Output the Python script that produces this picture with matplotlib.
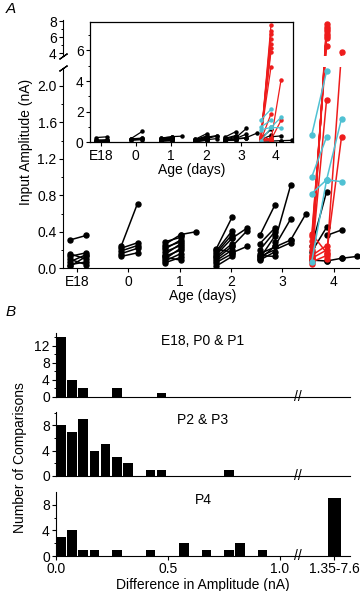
import matplotlib
matplotlib.use("Agg")
import matplotlib.pyplot as plt
import numpy as np
from matplotlib.ticker import FixedLocator, FixedFormatter

plt.rcParams['font.family'] = ['Liberation Sans', 'DejaVu Sans']
plt.rcParams['font.size'] = 9.5

# ─────────────────────────────────────────────────────────────────────────────
# Panel A data: paired inputs (age in days, amplitude in nA) -> (x0, y0, x1, y1)
age_ticks = [-1, 0, 1, 2, 3, 4]
age_labels = ["E18", "0", "1", "2", "3", "4"]

black_pairs = [
    # E18
    (-1.14, 0.31, -0.82, 0.36), (-1.14, 0.16, -0.82, 0.10), (-1.14, 0.13, -0.82, 0.17),
    (-1.14, 0.10, -0.82, 0.04), (-1.14, 0.07, -0.82, 0.15), (-1.14, 0.04, -0.82, 0.07),
    (-1.14, 0.02, -0.82, 0.13),
    # P0
    (-0.14, 0.24, 0.18, 0.71), (-0.14, 0.22, 0.18, 0.28), (-0.14, 0.19, 0.18, 0.25),
    (-0.14, 0.16, 0.18, 0.22), (-0.14, 0.13, 0.18, 0.17),
    # P1
    (1.02, 0.37, 1.31, 0.40), (0.71, 0.29, 1.02, 0.34), (0.71, 0.26, 1.02, 0.37),
    (0.71, 0.23, 1.02, 0.29), (0.71, 0.21, 1.02, 0.31), (0.71, 0.18, 1.02, 0.25),
    (0.71, 0.15, 1.02, 0.27), (0.71, 0.13, 1.02, 0.20), (0.71, 0.10, 1.02, 0.22),
    (0.71, 0.08, 1.02, 0.16), (0.71, 0.06, 1.02, 0.12), (0.71, 0.12, 1.02, 0.09),
    # P2
    (1.70, 0.20, 2.02, 0.56), (1.70, 0.18, 2.02, 0.41), (1.70, 0.16, 2.02, 0.37),
    (1.70, 0.14, 2.02, 0.33), (1.70, 0.12, 2.02, 0.27), (1.70, 0.10, 2.02, 0.24),
    (1.70, 0.08, 2.02, 0.20), (1.70, 0.06, 2.02, 0.16), (1.70, 0.02, 2.02, 0.13),
    (1.70, 0.21, 2.02, 0.18), (2.02, 0.33, 2.31, 0.44), (2.02, 0.24, 2.31, 0.41),
    (2.02, 0.17, 2.31, 0.24),
    # P3
    (2.56, 0.36, 2.85, 0.69), (2.56, 0.27, 2.85, 0.44), (2.85, 0.29, 3.16, 0.91),
    (2.85, 0.24, 3.16, 0.54), (3.16, 0.31, 3.46, 0.60), (2.56, 0.20, 2.85, 0.40),
    (2.56, 0.16, 3.16, 0.31), (2.56, 0.13, 3.16, 0.28), (2.56, 0.11, 2.85, 0.35),
    (2.56, 0.09, 2.85, 0.18), (2.56, 0.14, 2.85, 0.13), (2.56, 0.10, 2.85, 0.24),
    # P4
    (3.57, 0.09, 3.86, 0.08), (3.86, 0.08, 4.15, 0.11), (4.15, 0.11, 4.45, 0.13),
    (3.57, 0.24, 3.86, 0.84), (3.57, 0.18, 3.86, 0.45), (3.86, 0.36, 4.15, 0.42),
]

red_pairs = [
    (3.57, 0.05, 3.86, 7.65), (3.57, 0.08, 3.86, 7.30), (3.57, 0.12, 3.86, 7.05),
    (3.57, 0.15, 3.86, 6.75), (3.57, 0.20, 3.86, 6.45), (3.57, 0.25, 3.86, 6.15),
    (3.57, 0.30, 3.86, 5.90), (3.57, 0.35, 3.86, 4.90), (3.57, 0.10, 3.86, 1.85),
    (3.86, 0.10, 4.15, 4.10), (3.86, 0.16, 4.15, 1.44), (3.57, 0.38, 3.86, 0.17),
    (3.57, 0.14, 3.86, 0.25), (3.57, 0.11, 3.86, 0.20), (3.57, 0.07, 3.86, 0.14),
]

cyan_pairs = [
    (3.57, 1.46, 3.86, 2.16), (3.57, 1.00, 3.86, 1.44), (3.57, 0.82, 3.86, 0.97),
    (3.57, 0.07, 3.86, 0.97), (3.86, 0.97, 4.15, 0.95), (3.86, 0.97, 4.15, 1.64),
]

# Panel B data: histogram of amplitude differences (bins of 0.05 nA)
bin_left = [0.00, 0.05, 0.10, 0.15, 0.20, 0.25, 0.30, 0.35, 0.40, 0.45,
            0.50, 0.55, 0.60, 0.65, 0.70, 0.75, 0.80, 0.85, 0.90, 0.95]
counts_e18_p1 = [14, 4, 2, 0, 0, 2, 0, 0, 0, 1, 0, 0, 0, 0, 0, 0, 0, 0, 0, 0]
counts_p2_p3 = [8, 7, 9, 4, 5, 3, 2, 0, 1, 1, 0, 0, 0, 0, 0, 1, 0, 0, 0, 0]
counts_p4 = [3, 4, 1, 1, 0, 1, 0, 0, 1, 0, 0, 2, 0, 1, 0, 1, 2, 0, 1, 0]
big_label = "1.35-7.6"
big_counts = [0, 0, 9]   # E18-P1, P2-P3, P4
hist_titles = ["E18, P0 & P1", "P2 & P3", "P4"]

RED = '#EE1C1C'
CYAN = '#4FC1D3'

fig = plt.figure(figsize=(3.6, 5.91), dpi=100)

# ─────────────────────────────────────────────────────────────────────────────
# Panel A main (broken y axis via piecewise-linear scale)
BRK, TOP_START, K = 2.2, 3.6, 8 / 91.5


def fwd(y):
    y = np.asarray(y, float)
    return np.where(y <= BRK, y, BRK + (y - BRK) * K)


def inv(y):
    y = np.asarray(y, float)
    return np.where(y <= BRK, y, BRK + (y - BRK) / K)


ax = fig.add_axes([0.175, 0.546, 0.825, 0.4206])
ax.set_yscale('function', functions=(fwd, inv))
for pairs, col in [(black_pairs, 'black'), (red_pairs, RED), (cyan_pairs, CYAN)]:
    for x0, y0, x1, y1 in pairs:
        ax.plot([x0, x1], [y0, y1], '-o', color=col, lw=1.1, ms=3.6, zorder=2)
ax.axhspan(2.23, TOP_START, color='white', lw=0, zorder=4)
ax.set_xlim(-1.27, 4.51)
ax.set_ylim(0, 8.2)
for s in ['top', 'right', 'left']:
    ax.spines[s].set_visible(False)
trans = ax.get_yaxis_transform()
ax.plot([0, 0], [0, BRK], transform=trans, color='k', lw=0.8, clip_on=False, zorder=6)
ax.plot([0, 0], [TOP_START, 8.2], transform=trans, color='k', lw=0.8, clip_on=False, zorder=6)
# slanted break marks on the y axis
ax.plot([0, 0], [BRK, TOP_START], transform=trans, ls='none', marker=(2, 2, -55),
        ms=7, mew=0.9, color='k', clip_on=False, zorder=6)
ax.yaxis.set_major_locator(FixedLocator([0, 0.4, 0.8, 1.2, 1.6, 2.0, 4, 6, 8]))
ax.yaxis.set_major_formatter(FixedFormatter(['0.0', '0.4', '0.8', '1.2', '1.6', '2.0', '4', '6', '8']))
ax.yaxis.set_minor_locator(FixedLocator([0.2, 0.6, 1.0, 1.4, 1.8, 5, 7]))
ax.set_xticks(age_ticks)
ax.set_xticklabels(age_labels)
ax.tick_params(direction='out', length=3, width=0.8, pad=1.5, labelsize=10)
ax.tick_params(which='minor', direction='out', length=1.8, width=0.7)
ax.spines['bottom'].set_linewidth(0.8)
ax.set_xlabel("Age (days)", x=0.47, labelpad=0, fontsize=10)
fig.text(26 / 360, 1 - 142 / 591, "Input Amplitude (nA)", rotation=90,
         ha='center', va='center', fontsize=10)

# Panel A inset (linear scale, full range)
axi = fig.add_axes([0.25, 0.7592, 0.5639, 0.2036], zorder=5)
axi.set_facecolor('white')
for pairs, col in [(black_pairs, 'black'), (red_pairs, RED), (cyan_pairs, CYAN)]:
    for x0, y0, x1, y1 in pairs:
        axi.plot([x0, x1], [y0, y1], '-o', color=col, lw=0.9, ms=2.2)
axi.set_xlim(-1.31, 4.49)
axi.set_ylim(0, 7.86)
axi.set_xticks(age_ticks)
axi.set_xticklabels(age_labels)
axi.set_yticks([0, 2, 4, 6])
axi.yaxis.set_minor_locator(FixedLocator([1, 3, 5, 7]))
axi.tick_params(direction='out', length=3, width=0.8, pad=1.5, labelsize=10)
axi.tick_params(which='minor', direction='out', length=1.8, width=0.7)
for s in axi.spines.values():
    s.set_linewidth(0.9)
axi.set_xlabel("Age (days)", labelpad=0, fontsize=10)

fig.text(0.015, 1 - 9 / 591, "A", style='italic', fontsize=11, va='center')

# ─────────────────────────────────────────────────────────────────────────────
# Panel B histograms
b_bottoms = [0.3283, 0.1946, 0.0592]
b_ylims = [15, 10.1, 10]
b_majors = [[0, 4, 8, 12], [0, 4, 8], [0, 4, 8]]
b_minors = [[2, 6, 10, 14], [2, 6, 10], [2, 6]]
b_counts = [counts_e18_p1, counts_p2_p3, counts_p4]

for i in range(3):
    axb = fig.add_axes([0.1556, b_bottoms[i], 0.8167, 0.1083])
    axb.bar(bin_left, b_counts[i], width=0.043, align='edge', color='black')
    axb.bar([1.215], [big_counts[i]], width=0.055, align='edge', color='black')
    axb.set_xlim(0, 1.3125)
    axb.set_ylim(0, b_ylims[i])
    axb.spines['top'].set_visible(False)
    axb.spines['right'].set_visible(False)
    axb.spines['left'].set_linewidth(0.8)
    axb.spines['bottom'].set_linewidth(0.8)
    axb.set_yticks(b_majors[i])
    axb.yaxis.set_minor_locator(FixedLocator(b_minors[i]))
    axb.tick_params(axis='y', direction='out', length=3, width=0.8, pad=1.5, labelsize=10)
    axb.tick_params(axis='y', which='minor', direction='out', length=1.8, width=0.7)
    axb.text(1.08, 0, '//', ha='center', va='center', fontsize=10)
    axb.text(0.5, 0.87, hist_titles[i], transform=axb.transAxes,
             ha='center', va='center', fontsize=10)
    if i < 2:
        axb.set_xticks([])
    else:
        axb.set_xticks([0, 0.5, 1.0, 1.2425])
        axb.set_xticklabels(['0.0', '0.5', '1.0', big_label])
        axb.tick_params(axis='x', direction='out', length=3, width=0.8, pad=1.5, labelsize=10)
        axb.set_xlabel("Difference in Amplitude (nA)", labelpad=1, fontsize=10)

fig.text(20 / 360, 1 - 458 / 591, "Number of Comparisons", rotation=90,
         ha='center', va='center', fontsize=10)
fig.text(0.015, 1 - 312 / 591, "B", style='italic', fontsize=11, va='center')

fig.savefig("out.png", dpi=100)
